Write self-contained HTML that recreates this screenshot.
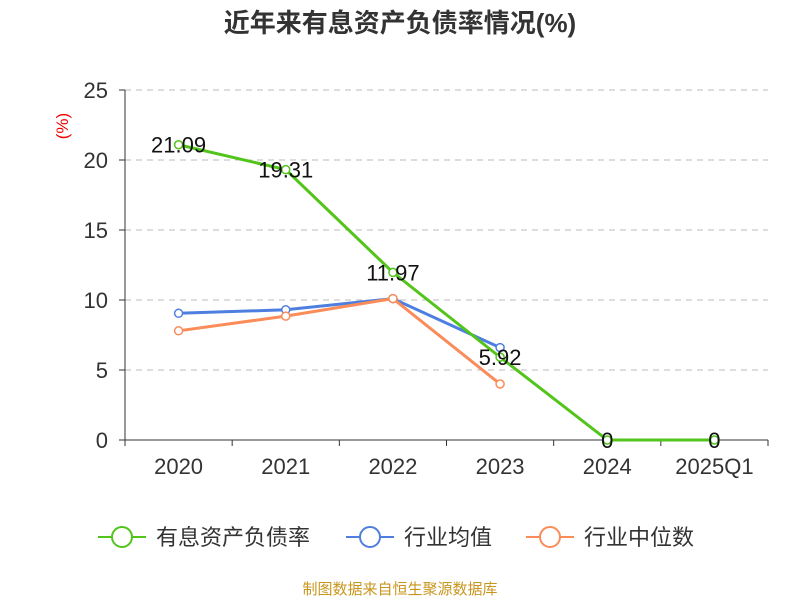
<!DOCTYPE html>
<html><head><meta charset="utf-8"><style>
body{margin:0;background:#fff;}
svg text{font-family:"Liberation Sans","Noto Sans CJK SC",sans-serif;}
</style></head><body>
<svg id="chart" width="800" height="600" xmlns="http://www.w3.org/2000/svg">
<text x="400" y="32" text-anchor="middle" font-size="26" font-weight="bold" fill="#333">近年来有息资产负债率情况(%)</text>
<text x="68" y="126" text-anchor="middle" font-size="17" fill="#e00" transform="rotate(-90 68 126)">(%)</text>
<g id="grid"></g><g id="axes"></g><g id="series"></g>
<g>
 <g><line x1="98" y1="537" x2="146" y2="537" stroke="#52c41a" stroke-width="2"/><circle cx="122" cy="537" r="10" fill="#fff" stroke="#52c41a" stroke-width="2"/><text x="156" y="545" font-size="22" fill="#333">有息资产负债率</text></g>
 <g><line x1="346" y1="537" x2="394" y2="537" stroke="#4e7fe0" stroke-width="2"/><circle cx="370" cy="537" r="10" fill="#fff" stroke="#4e7fe0" stroke-width="2"/><text x="404" y="545" font-size="22" fill="#333">行业均值</text></g>
 <g><line x1="526" y1="537" x2="574" y2="537" stroke="#fa8c5a" stroke-width="2"/><circle cx="550" cy="537" r="10" fill="#fff" stroke="#fa8c5a" stroke-width="2"/><text x="584" y="545" font-size="22" fill="#333">行业中位数</text></g>
</g>
<text x="400" y="594" text-anchor="middle" font-size="15" fill="#c8961e">制图数据来自恒生聚源数据库</text>
</svg>
<script>
const categories=["2020","2021","2022","2023","2024","2025Q1"];
const debtRatio=[21.09,19.31,11.97,5.92,0,0];
const industryAvg=[9.05,9.3,10.1,6.6];
const industryMedian=[7.8,8.85,10.1,4.0];
const yTicks=[0,5,10,15,20,25];
const NS="http://www.w3.org/2000/svg";
const L=125,R=768,T=90,B=440,band=(R-L)/categories.length;
function x(i){return L+band*(i+0.5);}
function y(v){return B-(v/25)*(B-T);}
function mk(p,tag,a){const e=document.createElementNS(NS,tag);for(const k in a)e.setAttribute(k,a[k]);document.getElementById(p).appendChild(e);return e;}
yTicks.forEach(v=>{
 if(v>0){const g=mk("grid","line",{x1:L,x2:R,y1:y(v),y2:y(v),stroke:"#bbb","stroke-dasharray":"6,5"});
 
 }
 const t=mk("axes","line",{x1:L-6,x2:L,y1:y(v),y2:y(v),stroke:"#333"});
 
 
 const l=mk("axes","text",{x:L-17,y:y(v)+8,"text-anchor":"end","font-size":"22",fill:"#333"});l.textContent=v;
 
 
});
let a=mk("axes","line",{x1:L,x2:L,y1:T,y2:B,stroke:"#333"});


a=mk("axes","line",{x1:L,x2:R,y1:B,y2:B,stroke:"#333"});


for(let i=0;i<=categories.length;i++){const t=mk("axes","line",{x1:L+band*i,x2:L+band*i,y1:B,y2:B+6,stroke:"#333"});
 
 }
categories.forEach((c,i)=>{const t=mk("axes","text",{x:x(i),y:B+34,"text-anchor":"middle","font-size":"22",fill:"#333"});t.textContent=c;
 
 });
function series(vals,color,name,labels){
 const p=mk("series","polyline",{points:vals.map((v,i)=>x(i)+","+y(v)).join(" "),fill:"none",stroke:color,"stroke-width":"3"});
 
 
 vals.forEach((v,i)=>{const c=mk("series","circle",{cx:x(i),cy:y(v),r:4,fill:"#fff",stroke:color,"stroke-width":"1.5"});
  
  
  if(labels){const t=mk("series","text",{x:x(i),y:y(v)+8,"text-anchor":"middle","font-size":"22",fill:"#111"});t.textContent=v;
  
  }});
}
series(industryAvg,"#4e7fe0","industry-avg",false);
series(industryMedian,"#fa8c5a","industry-median",false);
series(debtRatio,"#52c41a","debt-ratio",true);
</script>
</body></html>
